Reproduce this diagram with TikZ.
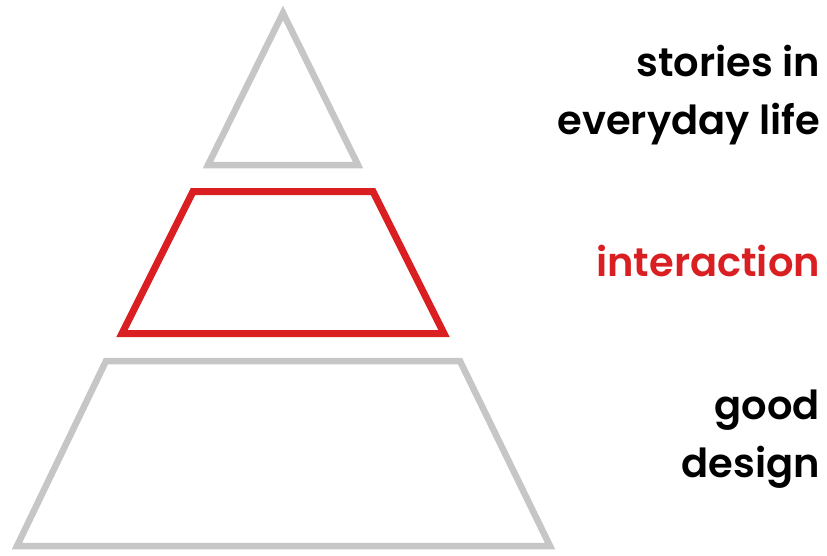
\documentclass[tikz,border=0pt]{standalone}
\usepackage{fontspec}
\setmainfont{Poppins}[UprightFont={* SemiBold}]
\usetikzlibrary{positioning}
\definecolor{pyrgray}{RGB}{198,198,198}
\definecolor{pyrred}{RGB}{218,31,34}
\tikzset{every node/.style={inner sep=0pt, outer sep=0pt}}

\begin{document}
\begin{tikzpicture}[x=1pt, y=-1pt, line join=miter,
    level/.style={draw=pyrgray, line width=6.5pt},
    hot/.style={draw=pyrred, line width=7pt},
    tag/.style={anchor=east, align=right, font=\fontsize{40}{58}\selectfont}]

    \useasboundingbox (0,0) rectangle (827,555);

    % Levels
    \coordinate (apex) at (283,13);
    \draw[level] (apex) -- (358,165) -- (208,165) -- cycle;
    \draw[hot] (193,191.5) -- (373,191.5) -- (444,333.5) -- (122,333.5) -- cycle;
    \draw[level] (106,361) -- (460,361) -- (550,546) -- (17,546) -- cycle;

    % Labels
    \node[tag] (stories) at (820,95) {stories in\\everyday life};
    \node[tag, text=pyrred] (interact) at (820,261) {interaction};
    \node[tag] (design) at (820,439) {good\\design};

\end{tikzpicture}
\end{document}
